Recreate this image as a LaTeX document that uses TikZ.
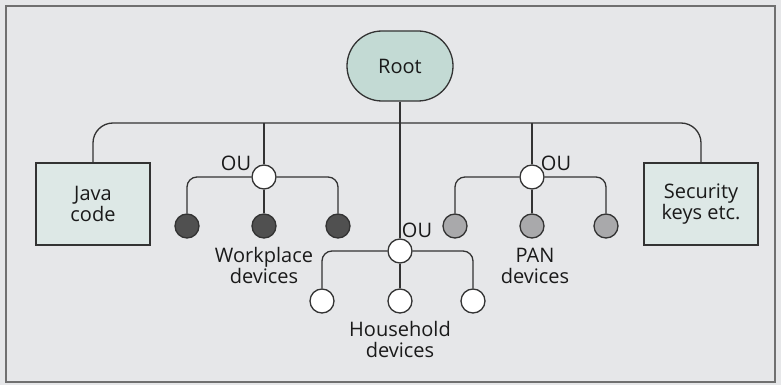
\documentclass[tikz,border=0pt]{standalone}
\usepackage{fontspec}
\setmainfont{Open Sans}
\definecolor{bgc}{HTML}{E6E7E9}
\definecolor{framec}{HTML}{707070}
\definecolor{boxc}{HTML}{DDE8E6}
\definecolor{rootc}{HTML}{C3DAD4}
\definecolor{linec}{HTML}{333333}
\definecolor{darkc}{HTML}{505050}
\definecolor{grayc}{HTML}{A9A9AB}
\definecolor{txtc}{HTML}{1A1A1A}
\begin{document}
\begin{tikzpicture}[x=1pt,y=-1pt,
  every node/.style={font=\fontsize{20}{21}\selectfont, text=txtc},
  wire/.style={draw=linec, line width=1.3pt},
  leafbox/.style={draw=linec, line width=1.5pt, fill=boxc, minimum width=114pt, minimum height=82pt, align=center, inner sep=0pt},
  rootbox/.style={draw=linec, line width=1.3pt, fill=rootc, rounded corners=35pt, minimum width=106pt, minimum height=70pt, inner sep=0pt},
  ou/.style={circle, draw=linec, line width=1.3pt, fill=white, minimum size=24pt, inner sep=0pt},
  darkleaf/.style={circle, draw=linec, line width=1.3pt, fill=darkc, minimum size=24pt, inner sep=0pt},
  grayleaf/.style={circle, draw=linec, line width=1.3pt, fill=grayc, minimum size=24pt, inner sep=0pt},
  whiteleaf/.style={circle, draw=linec, line width=1.3pt, fill=white, minimum size=24pt, inner sep=0pt},
  lbl/.style={align=center, inner sep=0pt},
  oulbl/.style={anchor=base, inner sep=0pt}
]
\useasboundingbox (0,0) rectangle (781,385);
\fill[bgc] (0,0) rectangle (781,385);
\draw[framec, line width=2pt] (6,6) rectangle (775,382);

% nodes
\node[rootbox] (root) at (400,66) {Root};
\node[leafbox] (java) at (93,204) {Java\\code};
\node[leafbox] (sec) at (701,204) {Security\\keys etc.};

\node[ou] (wou) at (264,177) {};
\node[ou] (pou) at (532,177) {};
\node[ou] (hou) at (400,251) {};

\node[darkleaf] (w1) at (187,226) {};
\node[darkleaf] (w2) at (264,226) {};
\node[darkleaf] (w3) at (338,226) {};

\node[grayleaf] (p1) at (455,226) {};
\node[grayleaf] (p2) at (532,226) {};
\node[grayleaf] (p3) at (606,226) {};

\node[whiteleaf] (h1) at (322,301) {};
\node[whiteleaf] (h2) at (400,301) {};
\node[whiteleaf] (h3) at (473,301) {};

\node[oulbl] (woul) at (236,170) {OU};
\node[oulbl] (poul) at (556,170) {OU};
\node[oulbl] (houl) at (417,237) {OU};

\node[lbl] (wl) at (264,265.5) {Workplace\\devices};
\node[lbl] (pl) at (535,265.5) {PAN\\devices};
\node[lbl] (hl) at (400,339.5) {Household\\devices};

\coordinate (bus) at (400,123);

% connectors
\draw[wire, rounded corners=20pt] (java.north) |- (bus) -| (sec.north);
\draw[wire] (root.south) -- (hou.north);
\draw[wire] (wou.north |- bus) -- (wou.north);
\draw[wire] (pou.north |- bus) -- (pou.north);

\draw[wire, rounded corners=10pt] (w1.north) |- (wou.west);
\draw[wire, rounded corners=10pt] (wou.east) -| (w3.north);
\draw[wire] (wou.south) -- (w2.north);

\draw[wire, rounded corners=10pt] (p1.north) |- (pou.west);
\draw[wire, rounded corners=10pt] (pou.east) -| (p3.north);
\draw[wire] (pou.south) -- (p2.north);

\draw[wire, rounded corners=10pt] (h1.north) |- (hou.west);
\draw[wire, rounded corners=10pt] (hou.east) -| (h3.north);
\draw[wire] (hou.south) -- (h2.north);
\end{tikzpicture}
\end{document}
